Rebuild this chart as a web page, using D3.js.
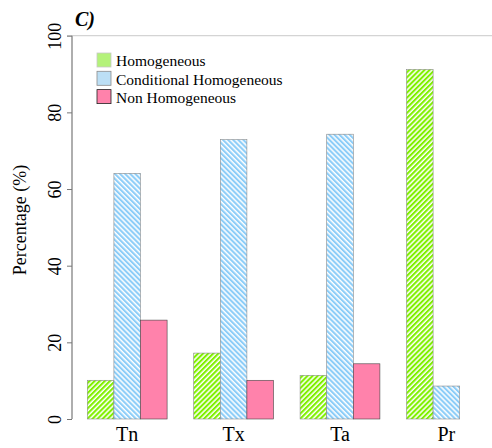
<!DOCTYPE html>
<html>
<head>
<meta charset="utf-8">
<script src="https://cdn.jsdelivr.net/npm/d3@7"></script>
<style>
  html, body { margin: 0; padding: 0; background: #fff; }
  svg { display: block; }
</style>
</head>
<body>
<svg id="chart" width="492" height="448"></svg>
<script>
// Station variables and the share (%) of series in each homogeneity class
const categories = ["Tn", "Tx", "Ta", "Pr"];
const homogeneous = [10.1, 17.2, 11.4, 91.2];
const conditional = [64.1, 72.9, 74.3, 8.6];
const nonHomogeneous = [25.8, 10.1, 14.4, 0];
const seriesNames = ["Homogeneous", "Conditional Homogeneous", "Non Homogeneous"];
const yTicks = [0, 20, 40, 60, 80, 100];

const seriesValues = [homogeneous, conditional, nonHomogeneous];
const fills = ["url(#hatchGreen)", "url(#hatchBlue)", "#ff82ab"];
const legendFills = ["#b4f27a", "#bcdff5", "#ff82ab"];
const legendStrokes = ["#c8c8c8", "#8c8c8c", "#222"];
const SERIF = "'Liberation Serif', 'Times New Roman', 'DejaVu Serif', serif";

const svg = d3.select("#chart").style("font-family", SERIF);

// Hatch fills for the first two classes
const defs = svg.append("defs");
function hatch(id, color, angle) {
  const p = defs.append("pattern")
    .attr("id", id)
    .attr("patternUnits", "userSpaceOnUse")
    .attr("width", 3.6).attr("height", 3.6)
    .attr("patternTransform", `rotate(${angle})`);
  p.append("rect").attr("width", 3.6).attr("height", 3.6).attr("fill", "#fff");
  p.append("rect").attr("width", 2.1).attr("height", 3.6).attr("fill", color);
}
hatch("hatchGreen", "#80f000", 45);
hatch("hatchBlue", "#8ccdf8", -45);

const y = d3.scaleLinear().domain([0, 100]).range([419, 35.7]);
const x0 = d3.scaleBand().domain(categories).range([87.3, 486.3])
  .paddingInner(0.25).paddingOuter(0);
const x1 = d3.scaleBand().domain(d3.range(seriesNames.length))
  .range([0, x0.bandwidth()]).padding(0);

// Frame line along the top of the plot
svg.append("line")
  .attr("x1", 67).attr("x2", 492)
  .attr("y1", y(100)).attr("y2", y(100))
  .attr("stroke", "#d4d4d4").attr("stroke-width", 1.2);

// Y axis with rotated tick labels
const yAxis = svg.append("g")
  .attr("transform", "translate(72,0)")
  .call(d3.axisLeft(y).tickValues(yTicks).tickSize(5).tickFormat(d3.format("d")));
yAxis.attr("font-family", SERIF);
yAxis.select(".domain").attr("stroke", "#9a9a9a").attr("stroke-width", 1.6)
  .attr("d", `M0,${y(100)}V${y(0)}`);
yAxis.selectAll(".tick line").attr("stroke", "#777");
yAxis.selectAll(".tick text")
  .attr("x", null).attr("dy", null)
  .attr("transform", "translate(-11.5,0) rotate(-90)")
  .attr("text-anchor", "middle")
  .style("font-family", SERIF)
  .style("font-size", "18px");

// Bars
const groups = svg.append("g").selectAll("g")
  .data(categories)
  .join("g")
  .attr("transform", d => `translate(${x0(d)},0)`);

groups.selectAll("rect")
  .data((d, i) => seriesValues.map((vals, s) => ({ s, v: vals[i] })).filter(e => e.v > 0))
  .join("rect")
  .attr("x", d => x1(d.s))
  .attr("width", x1.bandwidth())
  .attr("y", d => y(d.v))
  .attr("height", d => y(0) - y(d.v))
  .attr("fill", d => fills[d.s])
  .attr("stroke", d => d.s === 2 ? "#444" : "#8a8a8a")
  .attr("stroke-width", 0.6);

// Category labels
svg.append("g").selectAll("text")
  .data(categories)
  .join("text")
  .attr("x", d => x0(d) + x0.bandwidth() / 2)
  .attr("y", 441)
  .attr("text-anchor", "middle")
  .style("font-family", SERIF)
  .style("font-size", "20px")
  .text(d => d);

// Y axis title
svg.append("text")
  .attr("transform", "translate(26,220) rotate(-90)")
  .attr("text-anchor", "middle")
  .style("font-family", SERIF)
  .style("font-size", "18px")
  .text("Percentage (%)");

// Panel tag
svg.append("text")
  .attr("x", 75).attr("y", 26)
  .style("font-family", SERIF)
  .style("font-size", "20px")
  .style("font-weight", "bold")
  .style("font-style", "italic")
  .text("C)");

// Legend
const legend = svg.append("g").selectAll("g")
  .data(seriesNames)
  .join("g")
  .attr("transform", (d, i) => `translate(97,${53 + i * 18.3})`);
legend.append("rect")
  .attr("width", 14).attr("height", 14)
  .attr("fill", (d, i) => legendFills[i])
  .attr("stroke", (d, i) => legendStrokes[i])
  .attr("stroke-width", 0.8);
legend.append("text")
  .attr("x", 19).attr("y", 13.2)
  .style("font-family", SERIF)
  .style("font-size", "15.5px")
  .text(d => d);
</script>
</body>
</html>
